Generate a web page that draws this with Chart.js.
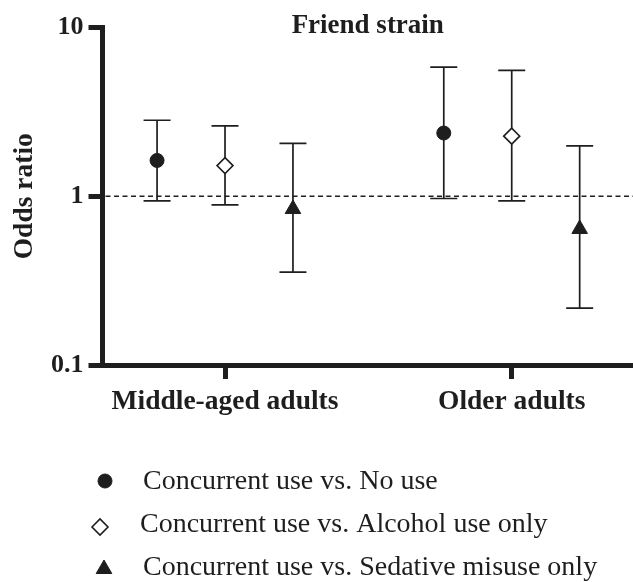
<!DOCTYPE html>
<html>
<head>
<meta charset="utf-8">
<script src="https://cdn.jsdelivr.net/npm/chart.js@4/dist/chart.umd.min.js"></script>
<style>
  html, body { margin: 0; padding: 0; background: #fff; }
  #wrap { position: relative; width: 633px; height: 582px; }
</style>
</head>
<body>
<div id="wrap"><canvas id="myChart" width="633" height="582"></canvas></div>
<script>
const groups = ['Middle-aged adults', 'Older adults'];
const seriesNames = [
  'Concurrent use vs. No use',
  'Concurrent use vs. Alcohol use only',
  'Concurrent use vs. Sedative misuse only',
];
// odds ratios and 95% CI per group
const noUseOR = [1.63, 2.37];
const noUseLow = [0.94, 0.97];
const noUseHigh = [2.82, 5.82];
const alcoholOR = [1.52, 2.27];
const alcoholLow = [0.89, 0.94];
const alcoholHigh = [2.61, 5.57];
const sedativeOR = [0.84, 0.64];
const sedativeLow = [0.355, 0.217];
const sedativeHigh = [2.06, 1.99];
const yTicks = [0.1, 1, 10];

const INK = '#1e1e1e';
const SERIF = '"Liberation Serif", "Times New Roman", serif';
const offsets = [-0.237, 0, 0.237];

const styles = [
  { pointStyle: 'circle', radius: 7, fill: INK, border: 1 },
  { pointStyle: 'rectRot', radius: 8, fill: '#fff', border: 1.6 },
  { pointStyle: 'triangle', radius: 9, fill: INK, border: 1 },
];

const series = [
  { or: noUseOR, low: noUseLow, high: noUseHigh },
  { or: alcoholOR, low: alcoholLow, high: alcoholHigh },
  { or: sedativeOR, low: sedativeLow, high: sedativeHigh },
];

const datasets = series.map((s, j) => ({
  label: seriesNames[j],
  data: s.or.map((v, i) => ({ x: i + 1 + offsets[j], y: v, low: s.low[i], high: s.high[i] })),
  pointStyle: styles[j].pointStyle,
  pointRadius: styles[j].radius,
  pointBackgroundColor: styles[j].fill,
  pointBorderColor: INK,
  pointBorderWidth: styles[j].border,
  showLine: false,
  clip: false,
}));

const errorBars = {
  id: 'errorBars',
  beforeDatasetsDraw(chart) {
    const { ctx, chartArea, scales } = chart;
    const y = scales.y;
    ctx.save();
    // reference line at OR = 1
    ctx.strokeStyle = INK;
    ctx.lineWidth = 1.5;
    ctx.setLineDash([5, 3.5]);
    ctx.beginPath();
    ctx.moveTo(chartArea.left + 3, y.getPixelForValue(1));
    ctx.lineTo(chartArea.right, y.getPixelForValue(1));
    ctx.stroke();
    ctx.setLineDash([]);
    ctx.lineWidth = 1.7;
    chart.data.datasets.forEach((ds, j) => {
      const meta = chart.getDatasetMeta(j);
      ds.data.forEach((d, i) => {
        const px = meta.data[i].x;
        const top = y.getPixelForValue(d.high);
        const bot = y.getPixelForValue(d.low);
        ctx.beginPath();
        ctx.moveTo(px, top);
        ctx.lineTo(px, bot);
        ctx.moveTo(px - 13.5, top);
        ctx.lineTo(px + 13.5, top);
        ctx.moveTo(px - 13.5, bot);
        ctx.lineTo(px + 13.5, bot);
        ctx.stroke();
      });
    });
    ctx.restore();
  },
  afterDraw(chart) {
    const { ctx, chartArea } = chart;
    ctx.save();
    ctx.fillStyle = INK;
    ctx.textAlign = 'center';
    ctx.textBaseline = 'alphabetic';
    ctx.font = 'bold 27px ' + SERIF;
    ctx.fillText('Friend strain', (chartArea.left + chartArea.right) / 2, 33);

    // legend
    const rows = [
      { markX: 105, markY: 481, textX: 143, base: 489, r: 7 },
      { markX: 100, markY: 527, textX: 140, base: 532, r: 8 },
      { markX: 104, markY: 569, textX: 143, base: 575, r: 9 },
    ];
    ctx.font = '28px ' + SERIF;
    ctx.textAlign = 'left';
    rows.forEach((row, j) => {
      const st = styles[j];
      ctx.fillStyle = st.fill;
      ctx.strokeStyle = INK;
      ctx.lineWidth = st.border;
      Chart.helpers.drawPoint(ctx, { pointStyle: st.pointStyle, radius: row.r, borderWidth: st.border, rotation: 0 }, row.markX, row.markY);
      ctx.fillStyle = INK;
      ctx.fillText(seriesNames[j], row.textX, row.base);
    });
    ctx.restore();
  },
};

const tickFont = { family: SERIF, size: 27.5, weight: 'bold' };

new Chart(document.getElementById('myChart').getContext('2d'), {
  type: 'scatter',
  data: { datasets },
  plugins: [errorBars],
  options: {
    animation: false,
    responsive: false,
    layout: { autoPadding: false, padding: { top: 27.5, right: 0, left: 0, bottom: 0 } },
    plugins: { legend: { display: false }, tooltip: { enabled: false } },
    scales: {
      x: {
        type: 'linear',
        min: 0.5727,
        max: 2.423,
        afterBuildTicks: (s) => { s.ticks = groups.map((g, i) => ({ value: i + 1 })); },
        afterFit: (s) => { s.height = 217; },
        ticks: {
          callback: (v, i) => groups[i],
          font: tickFont,
          color: INK,
          padding: 6,
          maxRotation: 0,
          autoSkip: false,
        },
        grid: { drawOnChartArea: false, drawTicks: true, tickLength: 14, tickWidth: 5, color: INK },
        border: { width: 5, color: INK },
      },
      y: {
        type: 'logarithmic',
        min: 0.1,
        max: 10,
        afterBuildTicks: (s) => { s.ticks = yTicks.map((v) => ({ value: v })); },
        afterFit: (s) => { s.width = 102.5; },
        ticks: {
          callback: (v) => String(v),
          font: { family: SERIF, size: 26, weight: 'bold' },
          color: INK,
          padding: 5,
        },
        title: {
          display: true,
          text: 'Odds ratio',
          font: tickFont,
          color: INK,
          padding: { top: 8, bottom: 0 },
        },
        grid: { drawOnChartArea: false, drawTicks: true, tickLength: 14, tickWidth: 5, color: INK },
        border: { width: 5, color: INK },
      },
    },
  },
});
</script>
</body>
</html>
